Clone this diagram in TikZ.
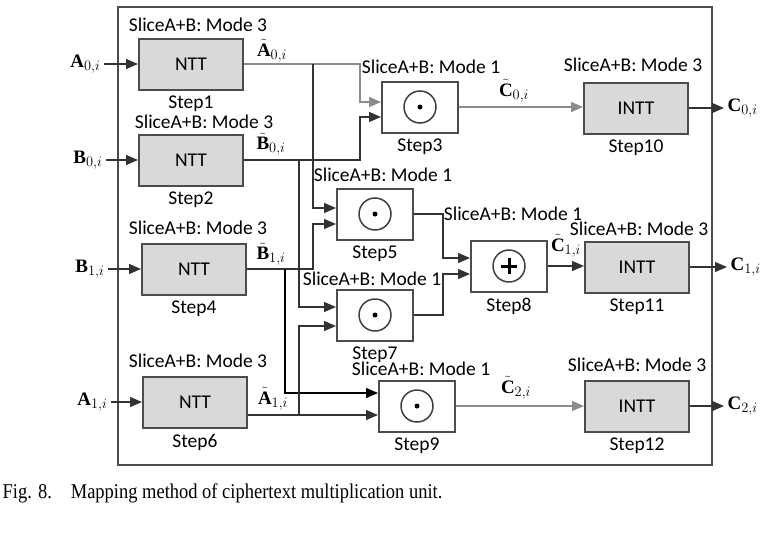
\documentclass[tikz,border=0pt]{standalone}
\usepackage{fontspec}
\setmainfont{Liberation Serif}
\newfontfamily\stepfont{Carlito}
\newfontfamily\capfont[FakeStretch=0.88]{Liberation Serif}
\usetikzlibrary{arrows.meta,positioning,calc}

\begin{document}
\begin{tikzpicture}[
    x=1pt, y=-1pt,
    line width    = 1.3pt,
    node distance = 5pt,
    every node/.style = {inner sep=0pt},
    ntt/.style     = {draw=black!70, fill=black!15, line width=2pt,
                      minimum width=104pt, minimum height=51pt,
                      font=\stepfont\fontsize{19.5}{22}\selectfont},
    opb/.style     = {ntt, fill=white, minimum width=76pt},
    modetxt/.style = {font=\stepfont\fontsize{19.5}{22}\selectfont},
    sname/.style   = {modetxt},
    vecl/.style    = {font=\fontsize{19}{22}\selectfont},
    port/.style    = {vecl, inner sep=3pt},
    connect line/.style = {black!80, -{Triangle[length=12pt,width=10pt]}},
    faint line/.style   = {connect line, black!45}
]
\useasboundingbox (0,0) rectangle (773,538);
\draw[black!70, line width=2pt] (118,7) rectangle (712,465);

% boxes
\foreach \n/\x/\y in {1/191/64, 2/191/160, 4/194/269, 6/195/402}
  \node[ntt] (step\n) at (\x,\y) {NTT};
\foreach \n/\x/\y in {10/636/108, 11/637/267, 12/637/406}
  \node[ntt] (step\n) at (\x,\y) {INTT};
\foreach \n/\x/\y in {3/420/107, 5/375/214, 7/375/315, 8/509/266, 9/417/406}
  \node[opb] (step\n) at (\x,\y) {};

\foreach \n in {3,5,7,9}
{ \draw[black!75, line width=1.5pt] (step\n.center) circle (16);
  \fill (step\n.center) circle (2.5); }
\draw[black!75, line width=1.5pt] (step8.center) circle (16);
\draw[line width=3pt] ([xshift=-8pt]step8.center) -- ([xshift=8pt]step8.center)
      ([yshift=-8pt]step8.center) -- ([yshift=8pt]step8.center);

% labels
\foreach \n in {1,...,12} \node[sname, below=of step\n] (name\n) {Step\n};
\foreach \n/\x/\y/\m in {1/198/25/3, 2/204/122/3, 4/198/228/3, 6/198/361/3,
    3/431/67/1, 5/383/175/1, 7/372/279/1, 8/513/214/1, 9/421/369/1,
    10/633/65/3, 11/639/229/3, 12/637/365/3}
  \node[modetxt] (mode\n) at (\x,\y) {SliceA+B: Mode \m};

\node[port, anchor=east] (a0) at (104,64)  {$\mathbf{A}_{0,i}$};
\node[port, anchor=east] (b0) at (106,160) {$\mathbf{B}_{0,i}$};
\node[port, anchor=east] (b1) at (108,269) {$\mathbf{B}_{1,i}$};
\node[port, anchor=east] (a1) at (111,402) {$\mathbf{A}_{1,i}$};
\node[port, anchor=west] (c0) at (724,108) {$\mathbf{C}_{0,i}$};
\node[port, anchor=west] (c1) at (727,267) {$\mathbf{C}_{1,i}$};
\node[port, anchor=west] (c2) at (724,406) {$\mathbf{C}_{2,i}$};
\node[vecl] (at0) at (272,51)  {$\tilde{\mathbf{A}}_{0,i}$};
\node[vecl] (bt0) at (271,144) {$\tilde{\mathbf{B}}_{0,i}$};
\node[vecl] (bt1) at (271,254) {$\tilde{\mathbf{B}}_{1,i}$};
\node[vecl] (at1) at (273,399) {$\tilde{\mathbf{A}}_{1,i}$};
\node[vecl] (ct0) at (514,91)  {$\tilde{\mathbf{C}}_{0,i}$};
\node[vecl] (ct1) at (566,246) {$\tilde{\mathbf{C}}_{1,i}$};
\node[vecl] (ct2) at (516,388) {$\tilde{\mathbf{C}}_{2,i}$};

% ports and bend columns
\foreach \n/\ya/\yb in {3/102/117, 5/208/224, 7/307/326, 8/258/274, 9/393/415}
{ \coordinate (step\n-in1) at (step\n.west |- 0,\ya);
  \coordinate (step\n-in2) at (step\n.west |- 0,\yb); }
\coordinate (col3) at (360,0);
\coordinate (colA) at (313,0);
\coordinate (colB) at (299,0);
\coordinate (colC) at (285,0);
\coordinate (col8) at (443,0);

% wires
\foreach \v/\n in {a0/1, b0/2, b1/4, a1/6}
  \draw[connect line] (\v.east) -- (\v.east -| step\n.west);
\draw[faint line] (step1.east) -| (col3 |- step3-in1) -- (step3-in1);
\draw[connect line] (step1.east -| colA) |- (step5-in1);
\draw[connect line] (step2.east) -| (col3 |- step3-in2) -- (step3-in2);
\draw[connect line] (step2.east -| colB) |- (step7-in1);
\draw[connect line] (step4.east) -| (colA |- step5-in2) -- (step5-in2);
\draw[connect line, black] (step4.east -| colC) |- (step9-in1);
\draw[connect line] (step6.east |- step9-in2) -- (step9-in2);
\draw[connect line] (colB |- step9-in2) |- (step7-in2);
\draw[connect line] (step5.east) -| (col8 |- step8-in1) -- (step8-in1);
\draw[connect line] (step7.east) -| (col8 |- step8-in2) -- (step8-in2);
\draw[faint line] (step3.east) -- (step3.east -| step10.west);
\draw[connect line] (step8.east) -- (step8.east -| step11.west);
\draw[faint line] (step9.east) -- (step9.east -| step12.west);
\foreach \n/\c in {10/c0, 11/c1, 12/c2}
  \draw[connect line] (step\n.east) -- (\c.west);

\node[anchor=west, font=\capfont\fontsize{21}{24}\selectfont] (caption) at (2,493)
  {Fig. 8.\hspace{0.9em}Mapping method of ciphertext multiplication unit.};
\end{tikzpicture}
\end{document}
